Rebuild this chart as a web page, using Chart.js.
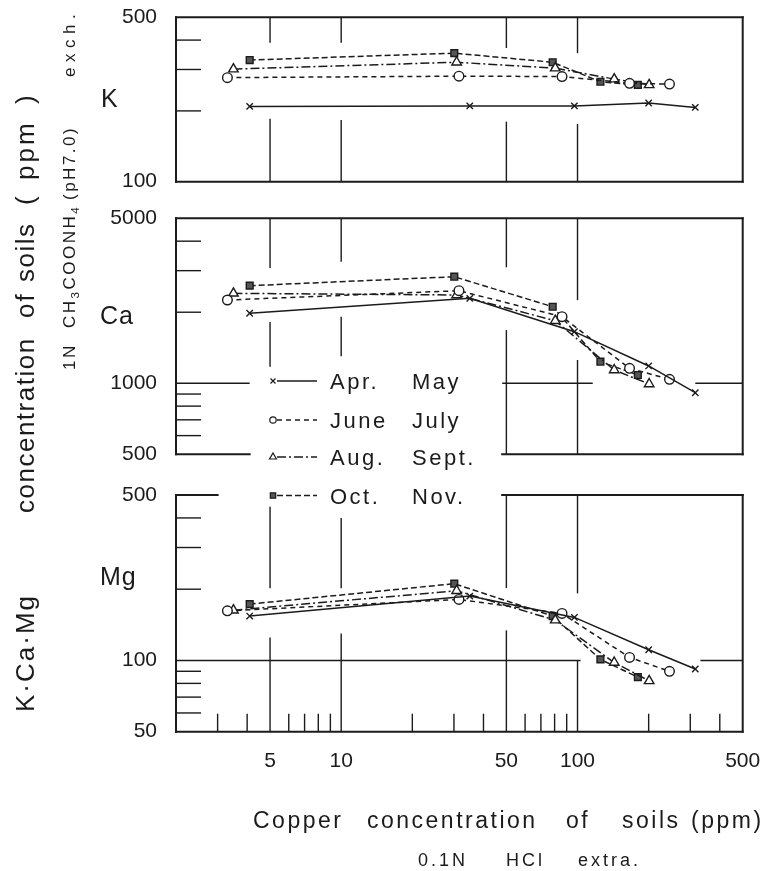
<!DOCTYPE html>
<html lang="en">
<head>
<meta charset="UTF-8">
<title>K, Ca, Mg in soils vs copper concentration</title>
<script src="https://cdn.jsdelivr.net/npm/chart.js"></script>
<style>
  html, body { margin: 0; padding: 0; background: #fff; }
  #wrap { position: relative; width: 772px; height: 871px; }
  #wrap canvas { position: absolute; left: 0; top: 0; }
</style>
</head>
<body>
<div id="wrap">
  <canvas id="kChart" width="772" height="871"></canvas>
  <canvas id="caChart" width="772" height="871"></canvas>
  <canvas id="mgChart" width="772" height="871"></canvas>
</div>
<script>
// copper in the soil samples (ppm, 0.1N HCl), one list per sampling period
const cuAprMay = [4.1, 35, 97, 200, 315];
const cuJunJul = [3.3, 31.5, 86, 166, 245];
const cuAugSep = [3.5, 30.8, 80.5, 143, 201];
const cuOctNov = [4.1, 30.1, 78.5, 125, 180];

// exchangeable K (ppm)
const kAprMay = [209, 210, 210, 216, 207];
const kJunJul = [277, 281, 280, 262, 260];
const kAugSep = [301, 322, 304, 273, 258];
const kOctNov = [329, 352, 322, 266, 258];

// exchangeable Ca (ppm)
const caAprMay = [1980, 2290, 1654, 1184, 912];
const caJunJul = [2253, 2467, 1914, 1157, 1039];
const caAugSep = [2405, 2366, 1841, 1138, 993];
const caOctNov = [2591, 2828, 2110, 1234, 1084];

// exchangeable Mg (ppm)
const mgAprMay = [154, 187, 152, 111, 92];
const mgJunJul = [162, 181, 158, 103, 90];
const mgAugSep = [163, 197, 148, 98, 82];
const mgOctNov = [173, 211, 154, 101, 85];

const seasonNames = [['Apr.', 'May'], ['June', 'July'], ['Aug.', 'Sept.'], ['Oct.', 'Nov.']];
const xTickValues = [5, 10, 50, 100, 500];

const ink = '#1b1b1b';
const FONT = '"Liberation Sans", Arial, sans-serif';

const styles = [
  { pointStyle: 'crossRot', radius: 4.5, legendRadius: 3.5, dash: [], fill: ink },
  { pointStyle: 'circle', radius: 4.8, legendRadius: 3.2, dash: [5, 4], fill: '#fff' },
  { pointStyle: 'triangle', radius: 5.5, legendRadius: 4, dash: [9, 3, 2, 3], fill: '#fff' },
  { pointStyle: 'rect', radius: 4.8, legendRadius: 3.8, dash: [6, 3], fill: '#555' }
];

function makeSets(cuLists, valLists) {
  return valLists.map((vals, s) => ({
    label: seasonNames[s].join(' '),
    data: vals.map((v, i) => ({ x: cuLists[s][i], y: v })),
    borderColor: ink,
    borderWidth: 1.5,
    borderDash: styles[s].dash,
    pointStyle: styles[s].pointStyle,
    pointRadius: styles[s].radius,
    pointBorderWidth: 1.4,
    pointBackgroundColor: styles[s].fill,
    pointBorderColor: ink,
    tension: 0,
    fill: false,
    clip: false
  }));
}

// frame, broken grid lines and short ticks, all given in data units
function framePlugin(spec) {
  return {
    id: 'frame',
    beforeDatasetsDraw(chart) {
      const { ctx, chartArea: a } = chart;
      const px = v => chart.scales.x.getPixelForValue(v);
      const py = v => chart.scales.y.getPixelForValue(v);
      const seg = (x1, y1, x2, y2, w) => {
        ctx.lineWidth = w;
        ctx.beginPath(); ctx.moveTo(x1, y1); ctx.lineTo(x2, y2); ctx.stroke();
      };
      ctx.save();
      ctx.strokeStyle = ink;
      ctx.lineCap = 'square';
      seg(a.left, a.top, a.left, a.bottom, 2);
      seg(a.right, a.top, a.right, a.bottom, 2);
      spec.topEdge.forEach(([u, v]) => seg(px(u), a.top, px(v), a.top, 2));
      spec.bottomEdge.forEach(([u, v]) => seg(px(u), a.bottom, px(v), a.bottom, 2));
      ctx.lineCap = 'butt';
      spec.vLines.forEach(([x, v0, v1]) => seg(px(x), py(v0), px(x), py(v1), 1.4));
      spec.hLines.forEach(([y, u0, u1]) => seg(px(u0), py(y), px(u1), py(y), 1.4));
      spec.leftTicks.forEach(v => seg(a.left, py(v), a.left + 25, py(v), 1.4));
      spec.bottomTicks.forEach(v => seg(px(v), a.bottom, px(v), a.bottom - 18, 1.4));
      ctx.restore();
    }
  };
}

// keep the label paddings from pushing the plot area around
function noScalePadding(s) {
  s.paddingTop = 0; s.paddingBottom = 0; s.paddingLeft = 0; s.paddingRight = 0;
}

function panel(id, sets, yMin, yMax, yLabels, area, spec, showX, extra) {
  const plugins = [framePlugin(spec)];
  if (extra) plugins.push(extra);
  return new Chart(document.getElementById(id), {
    type: 'line',
    data: { datasets: sets },
    options: {
      responsive: false,
      animation: false,
      devicePixelRatio: 1,
      layout: { padding: { left: 0, right: 29.3, top: area.top, bottom: area.bottom } },
      plugins: { legend: { display: false }, tooltip: { enabled: false } },
      scales: {
        x: {
          type: 'logarithmic', min: 2, max: 500, position: 'bottom',
          grid: { display: false, drawTicks: false }, border: { display: false },
          afterBuildTicks: s => { s.ticks = xTickValues.map(v => ({ value: v })); },
          afterFit: s => { s.height = showX ? 40 : 0; noScalePadding(s); },
          ticks: {
            display: showX, autoSkip: false, maxRotation: 0, padding: 17,
            color: ink, font: { family: FONT, size: 21 },
            callback: v => String(v)
          }
        },
        y: {
          type: 'logarithmic', min: yMin, max: yMax,
          grid: { display: false, drawTicks: false }, border: { display: false },
          afterBuildTicks: s => { s.ticks = yLabels.map(v => ({ value: v })); },
          afterFit: s => { s.width = 176; noScalePadding(s); },
          ticks: {
            autoSkip: false, padding: 19, color: ink,
            font: { family: FONT, size: 21 },
            callback: v => String(v)
          }
        }
      }
    },
    plugins
  });
}

function drawWord(ctx, str, x, y, size, spacing) {
  ctx.font = size + 'px ' + FONT;
  ctx.letterSpacing = spacing + 'px';
  ctx.fillText(str, x, y);
}

// text that reads bottom to top; runs are [text, isSubscript]
function drawUp(ctx, runs, x, yStart, size, spacing) {
  ctx.save();
  ctx.translate(x, yStart);
  ctx.rotate(-Math.PI / 2);
  ctx.letterSpacing = spacing + 'px';
  let pos = 0;
  runs.forEach(([str, sub]) => {
    const sz = sub ? size * 0.68 : size;
    ctx.font = sz + 'px ' + FONT;
    ctx.fillText(str, pos, sub ? size * 0.22 : 0);
    pos += ctx.measureText(str).width;
  });
  ctx.restore();
}

const annotations = {
  id: 'annotations',
  afterDraw(chart) {
    const ctx = chart.ctx;
    ctx.save();
    ctx.fillStyle = ink;
    ctx.strokeStyle = ink;
    ctx.textBaseline = 'alphabetic';
    ctx.textAlign = 'left';

    // element names inside the left margin
    drawWord(ctx, 'K', 101, 107, 25, 0);
    drawWord(ctx, 'Ca', 100, 324, 25, 1);
    drawWord(ctx, 'Mg', 100, 585, 25, 1);

    // y titles
    drawUp(ctx, [['K·Ca·Mg', 0]], 34, 712, 26, 2);
    drawUp(ctx, [['concentration', 0]], 34, 513, 26, 1.5);
    drawUp(ctx, [['of', 0]], 34, 318, 26, 2);
    drawUp(ctx, [['soils', 0]], 34, 282, 26, 1.5);
    drawUp(ctx, [['(', 0]], 34, 205, 26, 0);
    drawUp(ctx, [['ppm', 0]], 34, 180, 26, 3);
    drawUp(ctx, [[')', 0]], 34, 104, 26, 0);

    drawUp(ctx, [['1N', 0]], 75, 370, 17, 2.5);
    drawUp(ctx, [['CH', 0], ['3', 1], ['COONH', 0], ['4', 1]], 75, 328, 17, 2.5);
    drawUp(ctx, [['(pH7.0)', 0]], 75, 200, 17, 2.5);
    drawUp(ctx, [['exch.', 0]], 75, 77, 17, 5.5);

    // x titles
    drawWord(ctx, 'Copper', 253, 828, 23, 2.5);
    drawWord(ctx, 'concentration', 367, 828, 23, 2.5);
    drawWord(ctx, 'of', 566, 828, 23, 2.5);
    drawWord(ctx, 'soils', 622, 828, 23, 2.5);
    drawWord(ctx, '(ppm)', 691, 828, 23, 2.5);

    drawWord(ctx, '0.1N', 418, 866, 18, 3);
    drawWord(ctx, 'HCl', 506, 866, 18, 3);
    drawWord(ctx, 'extra.', 578, 866, 18, 3);

    // legend
    const rowY = [381, 420, 457, 495.5];
    const help = Chart.helpers;
    seasonNames.forEach((names, s) => {
      const y = rowY[s];
      const st = styles[s];
      ctx.lineWidth = 1.5;
      ctx.setLineDash(st.dash);
      ctx.beginPath(); ctx.moveTo(277, y); ctx.lineTo(317, y); ctx.stroke();
      ctx.setLineDash([]);
      ctx.lineWidth = 1.2;
      ctx.fillStyle = st.fill;
      help.drawPoint(ctx, { pointStyle: st.pointStyle, rotation: 0, radius: st.legendRadius, borderWidth: 1.2 }, 273, y);
      ctx.fillStyle = ink;
      drawWord(ctx, names[0], 330, y + 8, 22, 2.5);
      drawWord(ctx, names[1], 412, y + 8, 22, 2.5);
    });
    ctx.restore();
  }
};

panel('kChart',
  makeSets([cuAprMay, cuJunJul, cuAugSep, cuOctNov], [kAprMay, kJunJul, kAugSep, kOctNov]),
  100, 500, [500, 100], { top: 17.3, bottom: 689.3 },
  {
    topEdge: [[2, 500]], bottomEdge: [[2, 500]],
    vLines: [[5, 500, 390], [5, 185, 100], [10, 500, 390], [10, 183, 100],
             [50, 500, 370], [50, 180, 100], [100, 500, 352], [100, 176, 100]],
    hLines: [], leftTicks: [400, 300, 200], bottomTicks: []
  }, false);

panel('caChart',
  makeSets([cuAprMay, cuJunJul, cuAugSep, cuOctNov], [caAprMay, caJunJul, caAugSep, caOctNov]),
  500, 5000, [5000, 1000, 500], { top: 218.3, bottom: 416.7 },
  {
    topEdge: [[2, 500]], bottomEdge: [[2, 4.1], [48, 500]],
    vLines: [[5, 5000, 3080], [5, 1820, 1175], [10, 5000, 3270], [10, 1915, 1300],
             [50, 5000, 3100], [50, 1680, 500], [100, 5000, 2250], [100, 1255, 500]],
    hLines: [[1000, 2, 4.1], [1000, 48, 116], [1000, 315, 500]],
    leftTicks: [4000, 3000, 2000, 900, 800, 700, 600], bottomTicks: []
  }, false);

panel('mgChart',
  makeSets([cuAprMay, cuJunJul, cuAugSep, cuOctNov], [mgAprMay, mgJunJul, mgAugSep, mgOctNov]),
  50, 500, [500, 100, 50], { top: 495, bottom: 99.3 },
  {
    topEdge: [[2, 3.0], [48, 500]], bottomEdge: [[2, 500]],
    vLines: [[5, 446, 202], [5, 125, 50], [10, 400, 202], [10, 130, 50],
             [50, 500, 202], [50, 134, 50], [100, 500, 192], [100, 100, 50]],
    hLines: [[100, 2, 103], [100, 331, 500]],
    leftTicks: [400, 300, 200, 90, 80, 70, 60],
    bottomTicks: [3, 4, 6, 7, 8, 9, 20, 30, 40, 60, 70, 80, 90, 200, 300, 400]
  }, true, annotations);
</script>
</body>
</html>
